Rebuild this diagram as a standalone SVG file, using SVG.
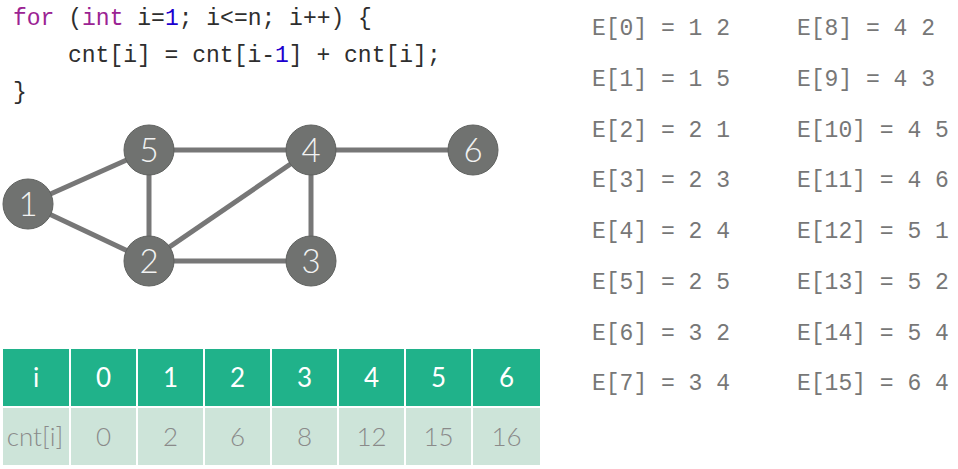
<svg xmlns="http://www.w3.org/2000/svg" width="958" height="469" viewBox="0 0 958 469">
<style>
.code{font-family:"Liberation Mono","DejaVu Sans Mono",monospace;font-size:23px;fill:#2e2e2e}
.kw{fill:#9b2393}
.num{fill:#1c00cf}
.edge{font-family:"Liberation Mono","DejaVu Sans Mono",monospace;font-size:23px;fill:#777}
.conn line{stroke:#777;stroke-width:5}
.node circle{fill:#707270;stroke:#5f615f;stroke-width:1}
.node text{font-family:Lato,"Open Sans",sans-serif;font-weight:300;font-size:33px;fill:#f2f2f2;text-anchor:middle}
.hd{fill:#20b28a}
.dt{fill:#cde4d9}
.ht{font-family:Lato,"Open Sans",sans-serif;font-size:26px;fill:#fff;text-anchor:middle}
.dtt{font-family:Lato,"Open Sans",sans-serif;font-weight:300;font-size:26px;fill:#8a8a8a;text-anchor:middle}
</style>
<rect width="958" height="469" fill="#fff"/>
<g id="code">
<text class="code" x="13" y="25"><tspan class="kw">for</tspan> (<tspan class="kw">int</tspan> i=<tspan class="num">1</tspan>; i&lt;=n; i++) {</text>
<text class="code" x="68" y="62">cnt[i] = cnt[i-<tspan class="num">1</tspan>] + cnt[i];</text>
<text class="code" x="13" y="99">}</text>
</g>
<g id="connectors" class="conn">
<line x1="28" y1="204" x2="149" y2="150"/>
<line x1="28" y1="204" x2="149" y2="261"/>
<line x1="149" y1="150" x2="311" y2="150"/>
<line x1="311" y1="150" x2="473" y2="150"/>
<line x1="149" y1="150" x2="149" y2="261"/>
<line x1="149" y1="261" x2="311" y2="150"/>
<line x1="311" y1="150" x2="311" y2="261"/>
<line x1="149" y1="261" x2="311" y2="261"/>
</g>
<g id="node1" class="node"><circle cx="28" cy="204" r="25"/><text x="28" y="216">1</text></g>
<g id="node2" class="node"><circle cx="149" cy="261" r="25"/><text x="149" y="273">2</text></g>
<g id="node3" class="node"><circle cx="311" cy="261" r="25"/><text x="311" y="273">3</text></g>
<g id="node4" class="node"><circle cx="311" cy="150" r="25"/><text x="311" y="162">4</text></g>
<g id="node5" class="node"><circle cx="149" cy="150" r="25"/><text x="149" y="162">5</text></g>
<g id="node6" class="node"><circle cx="473" cy="150" r="25"/><text x="473" y="162">6</text></g>
<g id="table">
<rect class="hd" x="3" y="349" width="66" height="57"/>
<rect class="hd" x="71" y="349" width="65" height="57"/>
<rect class="hd" x="138" y="349" width="65" height="57"/>
<rect class="hd" x="205" y="349" width="65" height="57"/>
<rect class="hd" x="272" y="349" width="65" height="57"/>
<rect class="hd" x="339" y="349" width="65" height="57"/>
<rect class="hd" x="406" y="349" width="65" height="57"/>
<rect class="hd" x="473" y="349" width="67" height="57"/>
<rect class="dt" x="3" y="408" width="66" height="57"/>
<rect class="dt" x="71" y="408" width="65" height="57"/>
<rect class="dt" x="138" y="408" width="65" height="57"/>
<rect class="dt" x="205" y="408" width="65" height="57"/>
<rect class="dt" x="272" y="408" width="65" height="57"/>
<rect class="dt" x="339" y="408" width="65" height="57"/>
<rect class="dt" x="406" y="408" width="65" height="57"/>
<rect class="dt" x="473" y="408" width="67" height="57"/>
<text class="ht" x="36" y="387">i</text>
<text class="ht" x="103.5" y="387">0</text>
<text class="ht" x="170.5" y="387">1</text>
<text class="ht" x="237.5" y="387">2</text>
<text class="ht" x="304.5" y="387">3</text>
<text class="ht" x="371.5" y="387">4</text>
<text class="ht" x="438.5" y="387">5</text>
<text class="ht" x="506.5" y="387">6</text>
<text class="dtt" x="35" y="446">cnt[i]</text>
<text class="dtt" x="103.5" y="446">0</text>
<text class="dtt" x="170.5" y="446">2</text>
<text class="dtt" x="237.5" y="446">6</text>
<text class="dtt" x="304.5" y="446">8</text>
<text class="dtt" x="371.5" y="446">12</text>
<text class="dtt" x="438.5" y="446">15</text>
<text class="dtt" x="506.5" y="446">16</text>
</g>
<g id="edgelist">
<text class="edge" x="592" y="35">E[0] = 1 2</text>
<text class="edge" x="592" y="86">E[1] = 1 5</text>
<text class="edge" x="592" y="137">E[2] = 2 1</text>
<text class="edge" x="592" y="187">E[3] = 2 3</text>
<text class="edge" x="592" y="238">E[4] = 2 4</text>
<text class="edge" x="592" y="289">E[5] = 2 5</text>
<text class="edge" x="592" y="340">E[6] = 3 2</text>
<text class="edge" x="592" y="390">E[7] = 3 4</text>
<text class="edge" x="797" y="35">E[8] = 4 2</text>
<text class="edge" x="797" y="86">E[9] = 4 3</text>
<text class="edge" x="797" y="137">E[10] = 4 5</text>
<text class="edge" x="797" y="187">E[11] = 4 6</text>
<text class="edge" x="797" y="238">E[12] = 5 1</text>
<text class="edge" x="797" y="289">E[13] = 5 2</text>
<text class="edge" x="797" y="340">E[14] = 5 4</text>
<text class="edge" x="797" y="390">E[15] = 6 4</text>
</g>
</svg>
